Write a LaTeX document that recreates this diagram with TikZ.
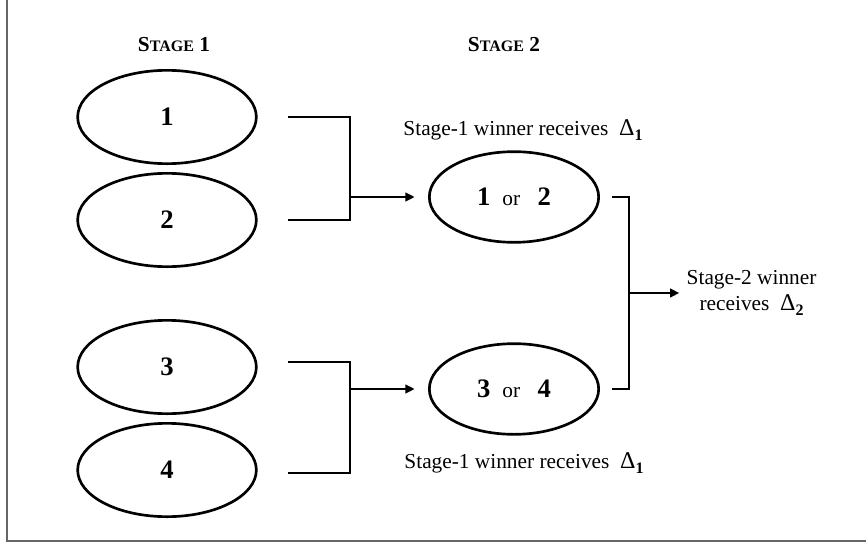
\documentclass[tikz,border=0pt]{standalone}
\usepackage{fontspec}
\setmainfont{Liberation Serif}
\usetikzlibrary{shapes.geometric,arrows.meta}
\newcommand{\stagename}[1]{\textbf{\fontsize{16}{18}\selectfont S\fontsize{12}{14}\selectfont TAGE\fontsize{16}{18}\selectfont\ #1}}
\newcommand{\seed}[1]{\textbf{\fontsize{20}{22}\selectfont #1}}
\newcommand{\prize}[1]{\fontsize{18}{20}\selectfont Δ\raisebox{-0.45ex}{\fontsize{12}{14}\selectfont\textbf{#1}}}
\begin{document}
\begin{tikzpicture}[x=0.75pt,y=-0.75pt,
    team/.style={draw,ellipse,line width=2pt,inner sep=0pt,
      minimum width=134pt,minimum height=70pt,
      font=\bfseries\fontsize{20}{22}\selectfont},
    match/.style={draw,ellipse,line width=2pt,inner sep=0pt,
      minimum width=127pt,minimum height=68pt,
      font=\fontsize{16}{18}\selectfont},
    bracketline/.style={line width=1.9pt},
    advance/.style={line width=1.9pt,-{Triangle[length=7pt,width=6.5pt]}},
    note/.style={align=center,font=\fontsize{16}{20}\selectfont}]
        \useasboundingbox (0,0) rectangle (866,543);
        % frame
        \draw[gray!80!black,line width=1.1pt] (7,0) -- (7,541) -- (866,541);
        % stage titles
        \node (stageone) at (174,45) {\stagename{1}};
        \node (stagetwo) at (504,45) {\stagename{2}};
        % first stage contestants
        \node[team] (one)   at (167,117) {1};
        \node[team] (two)   at (167,220) {2};
        \node[team] (three) at (167,367) {3};
        \node[team] (four)  at (167,470) {4};
        % second stage contests
        \node[match] (onetwo)    at (514,197) {\seed{1}\hspace{9pt}or\hspace{13pt}\seed{2}};
        \node[match] (threefour) at (514,389) {\seed{3}\hspace{9pt}or\hspace{13pt}\seed{4}};
        % prizes
        \node[note] (prizetop)    at (523,130) {Stage-1 winner receives\ \ \prize{1}};
        \node[note] (prizebottom) at (524,463) {Stage-1 winner receives\ \ \prize{1}};
        \node[note,anchor=west] (prizefinal) at (682,293) {Stage-2 winner\\receives\ \ \prize{2}};
        % junctions of the brackets
        \coordinate (joinupper) at (350,197);
        \coordinate (joinlower) at (350,389);
        \coordinate (joinfinal) at (629,293);
        % drawing the brackets
        \draw[bracketline] ([xshift=22.5pt]one.east) -| (joinupper) |- ([xshift=22.5pt]two.east);
        \draw[bracketline] ([xshift=22.5pt]three.east |- 0,362) -| (joinlower) |- ([xshift=22.5pt]four.east |- 0,473);
        \draw[bracketline] ([xshift=9pt]onetwo.east) -| (joinfinal) |- ([xshift=9pt]threefour.east);
        % drawing the arrows
        \draw[advance] (joinupper) -- ([xshift=-10pt]onetwo.west);
        \draw[advance] (joinlower) -- ([xshift=-10pt]threefour.west);
        \draw[advance] (joinfinal) -- ([xshift=-2pt]prizefinal.west);
\end{tikzpicture}
\end{document}
